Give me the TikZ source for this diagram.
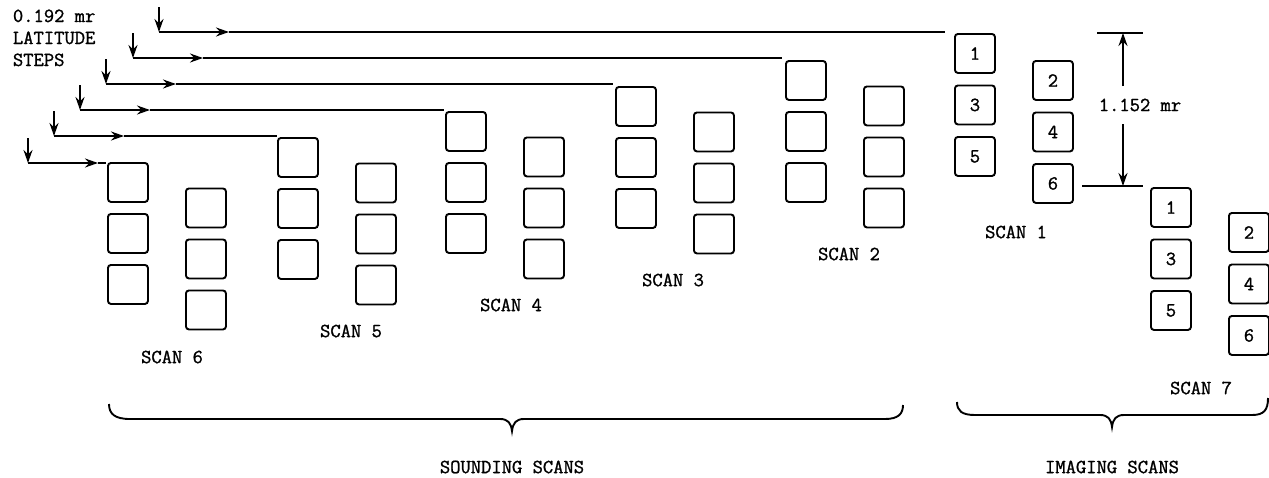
\documentclass[tikz,border=0pt]{standalone}
\usepackage{fontspec}
\newfontfamily\tw[FakeBold=1.2]{Latin Modern Mono}
\usetikzlibrary{arrows.meta}
\begin{document}
\begin{tikzpicture}[x=1pt,y=-1pt, line width=1.9pt,
  lbl/.style={font=\tw\fontsize{20}{22}\selectfont, inner sep=0pt},
  sbox/.style={draw, rounded corners=3pt, minimum width=40pt, minimum height=39pt,
    inner sep=0pt, anchor=north west, font=\tw\fontsize{20}{22}\selectfont},
  tip/.style={-{Stealth[length=13pt,width=9pt]}}]
\useasboundingbox (0,0) rectangle (1269,477);

% latitude-step label
\node[lbl, anchor=base west] (st1) at (12,22) {0.192 mr};
\node[lbl, anchor=base west] (st2) at (12,44) {LATITUDE};
\node[lbl, anchor=base west] (st3) at (12,66) {STEPS};

% step arrows
\foreach \i/\x/\y/\e in {1/159/32/945, 2/133/58/782, 3/106/84/613, 4/80/110/444, 5/54/136/277, 6/28/163/106}{
  \coordinate (t\i) at (\x,\y-25);
  \coordinate (c\i) at (\x,\y);
  \coordinate (m\i) at (\x+70,\y);
  \coordinate (e\i) at (\e,\y);
  \draw[tip] (t\i) -- (c\i);
  \draw[tip] (c\i) -- (m\i);
  \draw (m\i) -- (e\i);
}

% sounding scans
\foreach \s/\x/\y/\lx/\ly in {6/107/162/172/357, 5/277/137/351/331, 4/445/111/511/305, 3/615/86/673/280, 2/785/60/849/254}{
  \foreach \r in {0,1,2}{
    \node[sbox] (s\s a\r) at (\x, \y+51*\r) {};
    \node[sbox] (s\s b\r) at (\x+78, \y+25.5+51*\r) {};
  }
  \node[lbl] (l\s) at (\lx,\ly) {SCAN \s};
}

% imaging scans
\foreach \s/\x/\y/\dy in {1/954/33/27, 7/1150/187/25}{
  \foreach \r/\a/\b in {0/1/2, 1/3/4, 2/5/6}{
    \node[sbox] (i\s a\r) at (\x, \y+51.5*\r) {\a};
    \node[sbox] (i\s b\r) at (\x+78, \y+\dy+51.5*\r) {\b};
  }
}
\node[lbl] (l1) at (1016,232) {SCAN 1};
\node[lbl] (l7) at (1201,388) {SCAN 7};

% dimension 1.152 mr
\coordinate (da) at (1097,33);
\coordinate (db) at (1143,33);
\coordinate (dc) at (1082,186);
\coordinate (dd) at (1143,186);
\coordinate (vt) at (1123,33);
\coordinate (v1) at (1123,86);
\coordinate (v2) at (1123,124);
\coordinate (vb) at (1123,186);
\draw (da) -- (db);
\draw (dc) -- (dd);
\draw[tip] (v1) -- (vt);
\draw[tip] (v2) -- (vb);
\node[lbl] (dim) at (1140,105) {1.152 mr};

% braces
\draw (109,404) .. controls (109,414) and (115,419) .. (130,419) -- (500,419)
  .. controls (508,419) and (511,423) .. (512,431)
  .. controls (513,423) and (516,419) .. (524,419) -- (885,419)
  .. controls (898,419) and (903,414) .. (903,405);
\draw (957,402) .. controls (957,411) and (962,415) .. (975,415) -- (1100,415)
  .. controls (1108,415) and (1111,419) .. (1112,427)
  .. controls (1113,419) and (1116,415) .. (1124,415) -- (1252,415)
  .. controls (1264,415) and (1268,410) .. (1268,398);

\node[lbl] (sound) at (512,467) {SOUNDING SCANS};
\node[lbl] (imag) at (1112,467) {IMAGING SCANS};
\end{tikzpicture}
\end{document}
